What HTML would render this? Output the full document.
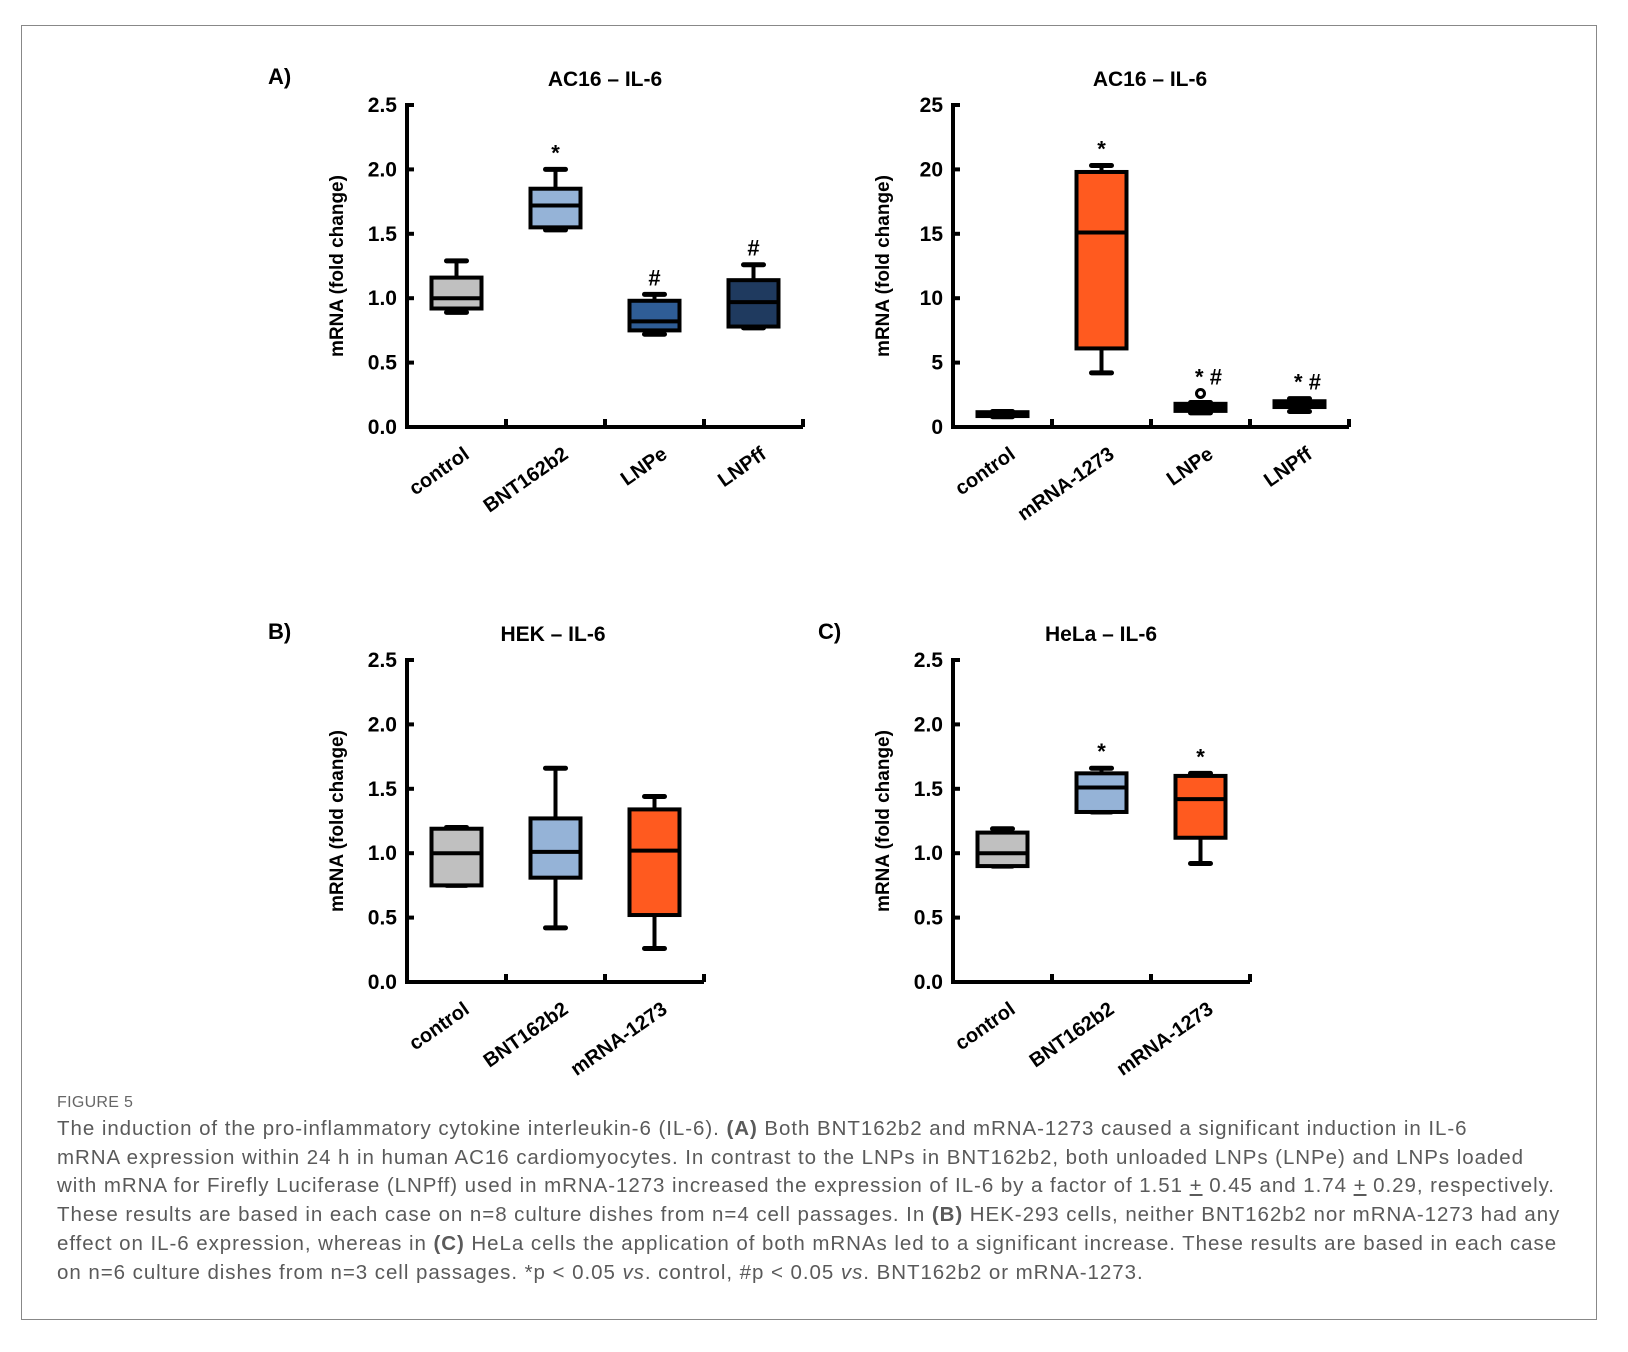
<!DOCTYPE html>
<html><head><meta charset="utf-8"><style>
body{margin:0;background:#fff;width:1628px;height:1352px;overflow:hidden;font-family:"Liberation Sans",sans-serif}
#frame{position:absolute;left:21px;top:25px;width:1576px;height:1295px;border:1px solid #888;box-sizing:border-box}
#cap{position:absolute;left:57px;top:1091px;width:1540px;color:#5a5a5a;font-size:20.5px;letter-spacing:0.95px;line-height:28.7px;white-space:nowrap}
#cap .fig{font-size:16px;letter-spacing:0.3px;line-height:24px;color:#666}
svg{position:absolute;left:0;top:0}
</style></head><body>
<div id="frame"></div>
<svg id="chart" width="1628" height="1352"></svg>
<div id="cap">
<div class="fig">FIGURE 5</div>
The induction of the pro-inflammatory cytokine interleukin-6 (IL-6). <b>(A)</b> Both BNT162b2 and mRNA-1273 caused a significant induction in IL-6<br>mRNA expression within 24 h in human AC16 cardiomyocytes. In contrast to the LNPs in BNT162b2, both unloaded LNPs (LNPe) and LNPs loaded<br>with mRNA for Firefly Luciferase (LNPff) used in mRNA-1273 increased the expression of IL-6 by a factor of 1.51 <u>+</u> 0.45 and 1.74 <u>+</u> 0.29, respectively.<br>These results are based in each case on n=8 culture dishes from n=4 cell passages. In <b>(B)</b> HEK-293 cells, neither BNT162b2 nor mRNA-1273 had any<br>effect on IL-6 expression, whereas in <b>(C)</b> HeLa cells the application of both mRNAs led to a significant increase. These results are based in each case<br>on n=6 culture dishes from n=3 cell passages. *p &lt; 0.05 <i>vs</i>. control, #p &lt; 0.05 <i>vs</i>. BNT162b2 or mRNA-1273.
</div>
<script>
// Panel A1
const a1Cats=["control","BNT162b2","LNPe","LNPff"];
const a1Min=[0.89,1.53,0.72,0.77];
const a1Q1=[0.92,1.55,0.75,0.78];
const a1Med=[1.0,1.72,0.82,0.97];
const a1Q3=[1.16,1.85,0.98,1.14];
const a1Max=[1.29,2.0,1.03,1.26];
const a1Sig=["","*","#","#"];
const a1Ticks=["0.0","0.5","1.0","1.5","2.0","2.5"];
// Panel A2
const a2Cats=["control","mRNA-1273","LNPe","LNPff"];
const a2Min=[0.8,4.2,1.1,1.2];
const a2Q1=[0.85,6.1,1.25,1.55];
const a2Med=[1.0,15.1,1.5,1.8];
const a2Q3=[1.15,19.8,1.8,2.0];
const a2Max=[1.2,20.3,1.9,2.2];
const a2Out=[null,null,2.6,null];
const a2Sig=["","*","*#","*#"];
const a2Ticks=["0","5","10","15","20","25"];
// Panel B
const bCats=["control","BNT162b2","mRNA-1273"];
const bMin=[0.75,0.42,0.26];
const bQ1=[0.75,0.81,0.52];
const bMed=[1.0,1.01,1.02];
const bQ3=[1.19,1.27,1.34];
const bMax=[1.2,1.66,1.44];
const bSig=["","",""];
// Panel C
const cCats=["control","BNT162b2","mRNA-1273"];
const cMin=[0.9,1.32,0.92];
const cQ1=[0.9,1.32,1.12];
const cMed=[1.0,1.51,1.42];
const cQ3=[1.16,1.62,1.6];
const cMax=[1.19,1.66,1.62];
const cSig=["","*","*"];
const bcTicks=["0.0","0.5","1.0","1.5","2.0","2.5"];

const NS="http://www.w3.org/2000/svg";
const svg=document.getElementById('chart');
function el(tag,attrs,parent){const e=document.createElementNS(NS,tag);for(const k in attrs)e.setAttribute(k,attrs[k]);(parent||svg).appendChild(e);return e;}

function panel(o){
  const g=el('g',{});
  
  
  const ymax=parseFloat(o.ticks[o.ticks.length-1]);
  const y=v=>o.y0-(v/ymax)*(o.y0-o.yTop);
  const step=99;
  const x=i=>o.x0+step/2+i*step;
  const xEnd=o.x0+step*o.cats.length;
  const ya=el('line',{x1:o.x0,y1:o.yTop-2,x2:o.x0,y2:o.y0,stroke:'#000','stroke-width':4},g);
  
  const xa=el('line',{x1:o.x0-2,y1:o.y0,x2:xEnd,y2:o.y0,stroke:'#000','stroke-width':4},g);
  
  o.ticks.forEach(t=>{const v=parseFloat(t);const yy=y(v);
    el('line',{x1:o.x0,y1:yy,x2:o.x0+7,y2:yy,stroke:'#000','stroke-width':4},g);
    const tx=el('text',{x:o.x0-10,y:yy+7,'text-anchor':'end','font-size':21,'font-weight':'bold'},g);
    tx.textContent=t;
    
  });
  for(let i=1;i<=o.cats.length;i++){const xx=o.x0+i*step;el('line',{x1:xx,y1:o.y0,x2:xx,y2:o.y0-8,stroke:'#000','stroke-width':4},g);}
  o.cats.forEach((c,i)=>{
    const cx=x(i);
    const t=el('text',{x:cx+14,y:o.y0+30,'text-anchor':'end','font-size':20,'font-weight':'bold',transform:`rotate(-35 ${cx+14} ${o.y0+30})`},g);
    t.textContent=c;
    
    const bw=50;
    const w=el('line',{x1:cx,y1:y(o.max[i]),x2:cx,y2:y(o.min[i]),stroke:'#000','stroke-width':4},g);
    
    el('line',{x1:cx-10,y1:y(o.max[i]),x2:cx+10,y2:y(o.max[i]),stroke:'#000','stroke-width':5,'stroke-linecap':'round'},g);
    el('line',{x1:cx-10,y1:y(o.min[i]),x2:cx+10,y2:y(o.min[i]),stroke:'#000','stroke-width':5,'stroke-linecap':'round'},g);
    const h=Math.max(y(o.q1[i])-y(o.q3[i]),2);
    const b=el('rect',{x:cx-bw/2,y:y(o.q3[i]),width:bw,height:h,fill:o.colors[i],stroke:'#000','stroke-width':4},g);
    
    el('line',{x1:cx-bw/2,y1:y(o.med[i]),x2:cx+bw/2,y2:y(o.med[i]),stroke:'#000','stroke-width':4},g);
    if(o.out&&o.out[i]!=null){const oc=el('circle',{cx:cx,cy:y(o.out[i]),r:4,fill:'#fff',stroke:'#000','stroke-width':3},g);
      }
    if(o.sig[i]){
      const top=Math.max(o.max[i],o.out&&o.out[i]!=null?o.out[i]:0);
      const s=el('text',{x:cx+(o.sig[i].length>1?8:0),y:y(top)-9,'text-anchor':'middle','font-size':22,'font-weight':'bold'},g);
      s.textContent=o.sig[i].length>1?'* #':o.sig[i];
      
    }
  });
  const tt=el('text',{x:o.titleX,y:o.yTop-19,'text-anchor':'middle','font-size':21,'font-weight':'bold'},g);
  tt.textContent=o.title;
  
  const yl=el('text',{x:o.x0-64,y:(o.y0+o.yTop)/2,'text-anchor':'middle','font-size':19,'font-weight':'bold',transform:`rotate(-90 ${o.x0-64} ${(o.y0+o.yTop)/2})`},g);
  yl.textContent='mRNA (fold change)';
  
  if(o.letter){const L=el('text',{x:o.letterX,y:o.yTop-21,'font-size':22,'font-weight':'bold'},g);L.textContent=o.letter;
    }
}
const grey='#c0c0c0',lb='#95b3d7',mb='#2f5d96',db='#1f3a5f',org='#ff5a1f',blk='#111';
panel({name:'panel-a-bnt',x0:407,yTop:105,y0:427,cats:a1Cats,min:a1Min,q1:a1Q1,med:a1Med,q3:a1Q3,max:a1Max,sig:a1Sig,ticks:a1Ticks,colors:[grey,lb,mb,db],title:'AC16 – IL-6',titleX:605,letter:'A)',letterX:268});
panel({name:'panel-a-moderna',x0:953,yTop:105,y0:427,cats:a2Cats,min:a2Min,q1:a2Q1,med:a2Med,q3:a2Q3,max:a2Max,out:a2Out,sig:a2Sig,ticks:a2Ticks,colors:[blk,org,blk,blk],title:'AC16 – IL-6',titleX:1150});
panel({name:'panel-b-hek',x0:407,yTop:660,y0:982,cats:bCats,min:bMin,q1:bQ1,med:bMed,q3:bQ3,max:bMax,sig:bSig,ticks:bcTicks,colors:[grey,lb,org],title:'HEK – IL-6',titleX:553,letter:'B)',letterX:268});
panel({name:'panel-c-hela',x0:953,yTop:660,y0:982,cats:cCats,min:cMin,q1:cQ1,med:cMed,q3:cQ3,max:cMax,sig:cSig,ticks:bcTicks,colors:[grey,lb,org],title:'HeLa – IL-6',titleX:1101,letter:'C)',letterX:818});
</script>
</body></html>
